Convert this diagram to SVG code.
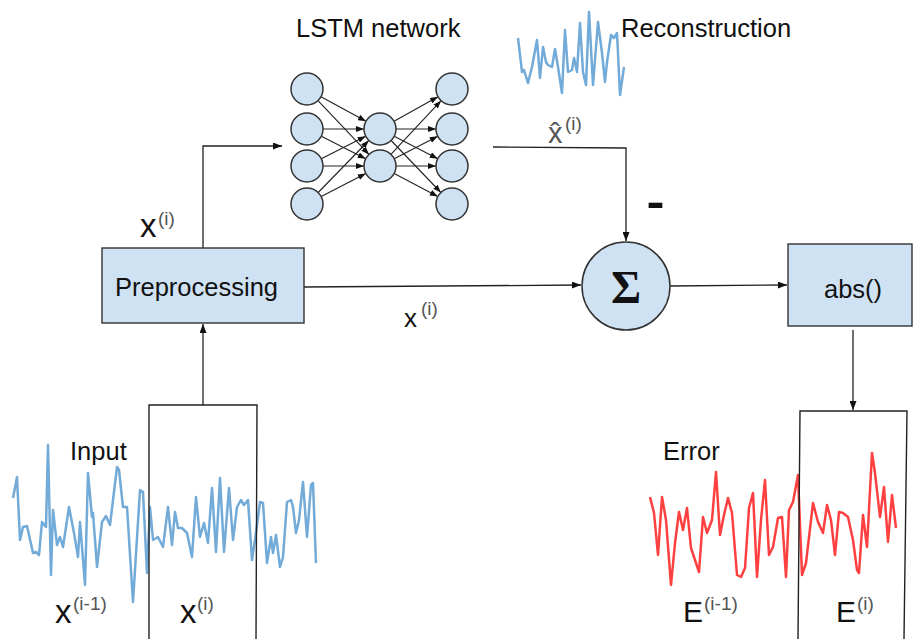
<svg xmlns="http://www.w3.org/2000/svg" width="913" height="639" viewBox="0 0 913 639">
  <defs>
    <marker id="arrow" markerUnits="userSpaceOnUse" markerWidth="9" markerHeight="7" refX="9" refY="3.5" orient="auto">
      <path d="M0,0 L9,3.5 L0,7 z" fill="#111"/>
    </marker>
    <marker id="arrow-sm" markerUnits="userSpaceOnUse" markerWidth="8" markerHeight="6" refX="8" refY="3" orient="auto">
      <path d="M0,0 L8,3 L0,6 z" fill="#111"/>
    </marker>
    <style>
      text { font-family: "Liberation Sans", Arial, sans-serif; fill: #111; }
      .label { font-size: 25.5px; }
      .big { font-size: 33px; }
      .bigE { font-size: 30px; }
      .mid { font-size: 26px; }
      .sup { font-size: 19px; fill: #555; }
      .hat { font-size: 29px; fill: #555; }
      .box { fill: #cfe2f3; stroke: #333; stroke-width: 1.4; }
      .neuron { fill: #cfe2f3; stroke: #333; stroke-width: 1.5; }
      .edge { stroke: #222; stroke-width: 1.1; fill: none; marker-end: url(#arrow-sm); }
      .conn { stroke: #222; stroke-width: 1.3; fill: none; }
      .arrowed { marker-end: url(#arrow); }
      .window { stroke: #222; stroke-width: 1.4; fill: none; }
      .sig-blue { stroke: #72aad8; stroke-width: 2.5; fill: none; stroke-linejoin: round; }
      .sig-red { stroke: #ff4040; stroke-width: 2.5; fill: none; stroke-linejoin: round; }
    </style>
  </defs>

  <!-- input time series -->
  <polyline class="sig-blue" points="13,498 17,477 20,540 23,527 27,526 33,553 36,552 39,555 42,522 46,527 48,445 51,575 53,510 57,545 60,537 63,547 69,507 74,533 78,557 80,522 85,585 88,473 92,517 93,513 97,567 102,522 106,516 110,525 117,467 119,470 123,507 127,507 133,602 140,490 143,492 147,573 150,507 153,540 158,537 163,547 168,507 172,545 175,512 178,528 182,528 187,533 192,557 196,497 200,537 204,523 208,543 212,488 216,552 220,478 224,552 229,488 233,540 237,507 241,500 244,505 248,500 252,560 256,533 260,502 263,503 267,563 271,537 273,553 276,535 280,567 283,557 287,502 291,500 293,507 296,533 299,520 303,482 307,537 311,485 313,483 316,563"/>

  <!-- reconstructed series -->
  <polyline class="sig-blue" points="518,38 522,72 524,70 528,83 532,67 537,40 540,78 543,47 546,62 548,65 552,67 555,49 558,67 562,93 565,30 568,72 572,70 574,58 577,72 580,23 583,72 586,85 589,12 593,85 598,22 602,53 605,82 607,62 611,35 614,38 617,33 620,95 624,67"/>

  <!-- error series -->
  <polyline class="sig-red" points="650,497 654,513 658,555 662,497 666,520 671,585 675,543 679,512 683,530 687,508 691,548 695,560 699,572 703,517 707,533 712,520 716,472 720,535 724,515 728,498 732,513 737,575 741,577 745,568 749,508 753,493 757,577 761,520 765,480 769,555 773,547 778,518 782,517 786,577 789,510 793,502 798,475 802,575 806,563 813,503 818,522 823,533 827,505 831,520 835,555 839,512 843,513 848,517 853,540 857,570 859,573 863,515 867,547 872,453 875,473 880,517 884,487 888,542 892,495 896,528"/>

  <!-- sliding windows -->
  <path id="input-window" class="window" d="M149,639 L149,405 L257,405 L256,639"/>
  <path id="error-window" class="window" d="M798,639 L800,411 L907,411 L904,639"/>

  <!-- connectors -->
  <g id="connectors">
    <polyline class="conn arrowed" points="203,248 203,146 282,146"/>
    <line class="conn arrowed" x1="203" y1="405" x2="203" y2="324"/>
    <line class="conn arrowed" x1="304" y1="287" x2="581" y2="285"/>
    <polyline class="conn arrowed" points="493,147 626,148 626,241"/>
    <line class="conn arrowed" x1="670" y1="286" x2="787" y2="285"/>
    <line class="conn arrowed" x1="853" y1="330" x2="853" y2="410"/>
  </g>

  <!-- LSTM network -->
  <g id="lstm">
    <g id="lstm-edges">
      <line class="edge" x1="321.0" y1="96.7" x2="366.0" y2="121.3"/>
      <line class="edge" x1="318.0" y1="100.6" x2="369.0" y2="154.4"/>
      <line class="edge" x1="323" y1="129" x2="364" y2="129"/>
      <line class="edge" x1="321.3" y1="136.2" x2="365.7" y2="158.8"/>
      <line class="edge" x1="321.3" y1="158.8" x2="365.7" y2="136.2"/>
      <line class="edge" x1="323" y1="166" x2="364" y2="166"/>
      <line class="edge" x1="318.2" y1="192.5" x2="368.8" y2="140.5"/>
      <line class="edge" x1="321.2" y1="196.6" x2="365.8" y2="173.4"/>
      <line class="edge" x1="394.0" y1="121.2" x2="438.0" y2="96.8"/>
      <line class="edge" x1="396" y1="129" x2="436" y2="129"/>
      <line class="edge" x1="394.2" y1="136.3" x2="437.8" y2="158.7"/>
      <line class="edge" x1="391.1" y1="140.5" x2="440.9" y2="192.5"/>
      <line class="edge" x1="390.9" y1="154.3" x2="441.1" y2="100.7"/>
      <line class="edge" x1="394.2" y1="158.7" x2="437.8" y2="136.3"/>
      <line class="edge" x1="396" y1="166" x2="436" y2="166"/>
      <line class="edge" x1="394.2" y1="173.5" x2="437.8" y2="196.5"/>
    </g>
    <circle class="neuron" cx="307" cy="89" r="16"/>
    <circle class="neuron" cx="307" cy="129" r="16"/>
    <circle class="neuron" cx="307" cy="166" r="16"/>
    <circle class="neuron" cx="307" cy="204" r="16"/>
    <circle class="neuron" cx="380" cy="129" r="16"/>
    <circle class="neuron" cx="380" cy="166" r="16"/>
    <circle class="neuron" cx="452" cy="89" r="16"/>
    <circle class="neuron" cx="452" cy="129" r="16"/>
    <circle class="neuron" cx="452" cy="166" r="16"/>
    <circle class="neuron" cx="452" cy="204" r="16"/>
    <text class="label" x="296" y="36.5">LSTM network</text>
  </g>

  <g id="reconstruction-label">
    <text class="label" x="621" y="36.5">Reconstruction</text>
  </g>

  <!-- preprocessing block -->
  <g id="preprocessing">
    <rect class="box" x="102" y="248" width="202" height="75"/>
    <text class="label" x="115" y="296">Preprocessing</text>
  </g>

  <!-- summation node -->
  <g id="sum">
    <circle class="neuron" cx="626" cy="286" r="44"/>
    <text x="626" y="303" text-anchor="middle" style="font-family: 'Liberation Serif', 'Times New Roman', serif; font-weight: bold; font-size: 46px;">Σ</text>
  </g>

  <!-- absolute value block -->
  <g id="abs">
    <rect class="box" x="788" y="244" width="124" height="82"/>
    <text class="label" x="824" y="298">abs()</text>
  </g>

  <!-- labels -->
  <g id="labels">
    <text class="big" x="140" y="237">x</text>
    <text class="sup" x="158" y="224.5">(i)</text>

    <text class="mid" x="404" y="327">x</text>
    <text class="sup" x="421" y="315">(i)</text>

    <text class="hat" x="548" y="143">x&#x302;</text>
    <text class="sup" x="565" y="130">(i)</text>

    <text x="646.5" y="217" textLength="18" lengthAdjust="spacingAndGlyphs" style="font-size: 44px; font-weight: bold;">-</text>

    <text class="label" x="70" y="459.5">Input</text>
    <text class="big" x="55" y="623">x</text>
    <text class="sup" x="73" y="609.5">(i-1)</text>
    <text class="big" x="180" y="623">x</text>
    <text class="sup" x="197" y="609.5">(i)</text>

    <text class="label" x="663" y="459.5">Error</text>
    <text class="bigE" x="683" y="622">E</text>
    <text class="sup" x="704" y="609.5">(i-1)</text>
    <text class="bigE" x="836" y="622">E</text>
    <text class="sup" x="857" y="609.5">(i)</text>
  </g>
</svg>
